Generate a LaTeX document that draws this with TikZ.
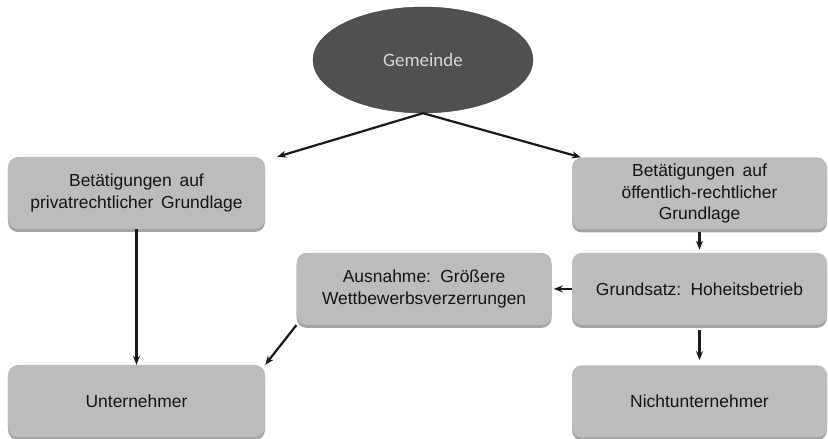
\documentclass[tikz,border=0pt]{standalone}
\usepackage{fontspec}
\setmainfont{Liberation Sans}
\newfontfamily\ellfont{Carlito}
\usepackage{xcolor}
\usepackage{tikz}
\usetikzlibrary{shapes.geometric,arrows.meta,positioning,shadows}

\definecolor{boxgray}{RGB}{188,188,188}
\definecolor{ellgray}{RGB}{80,80,80}
\definecolor{txtgray}{RGB}{20,20,20}

\begin{document}
\begin{tikzpicture}[x=1bp,y=-1bp,
  node distance=23bp and 20bp,
  box/.style={fill=boxgray,rounded corners=10pt,align=center,
              text=txtgray,font=\fontsize{17.5}{21.5}\selectfont,
              minimum width=255bp,minimum height=72bp,inner sep=2pt,
              drop shadow={shadow xshift=0pt,shadow yshift=-3pt,
                           fill=black!60,opacity=0.6}},
  head/.style={ellipse,fill=ellgray,draw=ellgray!80!black,
               minimum width=220bp,minimum height=106bp,inner sep=0pt,
               text=white!85!black,font=\ellfont\fontsize{19}{22}\selectfont},
  arr/.style={-{Stealth[length=9bp,width=7bp]},line width=2.2bp,draw=black!90}]

  \useasboundingbox (0,0) rectangle (828,439);

  \node[head] (gem) at (423,60) {Gemeinde};

  \node[box,minimum width=257bp] (priv) at (136.5,193)
       {Betätigungen\, auf\\privatrechtlicher\, Grundlage};
  \node[box] (oeff) at (699.5,193.5)
       {Betätigungen\, auf\\öffentlich-rechtlicher\\Grundlage};
  \node[box,below=of oeff] (grund) {Grundsatz:\, Hoheitsbetrieb};
  \node[box,left=of grund] (aus)
       {Ausnahme:\, Größere\\Wettbewerbsverzerrungen};
  \node[box,below=40bp of grund] (nicht) {Nichtunternehmer};
  \node[box,minimum width=257bp] (unt) at (136.5,401) {Unternehmer};

  \draw[arr] (gem.south) -- ([xshift=12bp]priv.north east);
  \draw[arr] (gem.south) -- ([xshift=9bp]oeff.north west);
  \draw[arr] (priv) -- (unt);
  \draw[arr,shorten <=2bp,shorten >=3bp] (oeff) -- (grund);
  \draw[arr,shorten <=5bp,shorten >=5bp] (grund) -- (nicht);
  \draw[arr,shorten >=2bp] (grund) -- (aus);
  \draw[arr] (aus.south west) -- (unt.north east);
\end{tikzpicture}
\end{document}
